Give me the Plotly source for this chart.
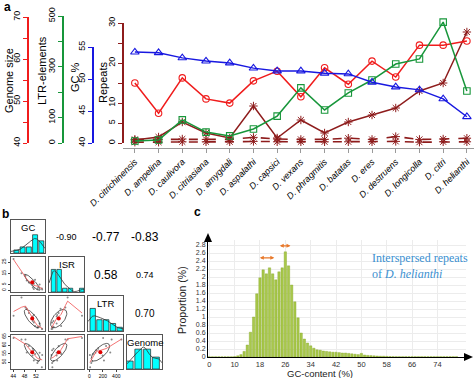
import numpy as np
import plotly.graph_objects as go

# ---------------- data ----------------
species = ["D. citrichinensis", "D. ampelina", "D. caulivora", "D. citriasiana", "D. amygdali",
           "D. aspalathi", "D. capsici", "D. vexans", "D. phragmitis", "D. batatas", "D. eres",
           "D. destruens", "D. longicolla", "D. citri", "D. helianthi"]
genome_size = [54.3, 47.1, 55.5, 50.5, 49.5, 54.8, 57.1, 51.0, 57.9, 54.0, 59.5, 55.7, 63.3, 63.3, 64.3]
ltr_elements = [8, 12, 91, 43, 28, 55, 106, 217, 130, 197, 248, 311, 331, 476, 205]
gc_percent = [54.2, 54.1, 53.3, 52.8, 52.5, 51.7, 51.25, 51.25, 50.9, 50.8, 49.5, 48.75, 48.3, 46.9, 44.1]
repeats = [0.75, 1.5, 5.25, 2.5, 1.25, 9.25, 1.25, 5.75, 2.5, 5.25, 7.0, 8.75, 13.0, 15.0, 27.75]
repeats_minor_a = [0.9, 0.9, 1.0, 0.9, 0.9, 1.4, 1.0, 0.9, 0.9, 1.2, 0.9, 1.6, 0.9, 1.0, 1.2]
repeats_minor_b = [0.2, 0.2, 0.3, 0.3, 0.3, 0.4, 0.3, 0.3, 0.3, 0.3, 0.3, 0.4, 0.2, 0.3, 0.3]

genome_ticks = [40, 45, 50, 55, 60, 65, 70]
genome_ticktext = ["40", "", "50", "", "60", "", "70"]
ltr_ticks = [0, 100, 200, 300, 400, 500]
ltr_ticktext = ["0", "100", "", "300", "", "500"]
gc_ticks = [40, 45, 50, 55]
rep_ticks = [0, 5, 10, 15, 20, 25, 30]
rep_ticktext = ["0", "5", "10", "", "20", "", "30"]

# panel b
b_names = ["GC", "ISR", "LTR", "Genome"]
corr_pairs = [(0, 1), (0, 2), (0, 3), (1, 2), (1, 3), (2, 3)]
corr_labels = ["-0.90", "-0.77", "-0.83", "0.58", "0.74", "0.70"]
corr_sizes = [9, 12, 12, 12, 9, 10]
b_ticks = [[44, 48, 52], [0, 5, 15, 25], [0, 200, 400], [50, 55, 60, 65]]

# panel c
gc_content = list(range(2, 81))
proportion = ([0.005] * 8 + [0.01, 0.03, 0.06, 0.14, 0.3, 0.62, 1.0, 1.58, 1.98, 2.18, 2.08, 2.23,
              2.08, 1.93, 2.13, 2.23, 2.63, 2.28, 1.8, 1.38, 0.98, 0.6, 0.45, 0.35, 0.28, 0.22,
              0.18, 0.17, 0.15, 0.14, 0.13, 0.12, 0.12, 0.11, 0.1, 0.1, 0.09, 0.08, 0.07, 0.06,
              0.09, 0.05, 0.04, 0.035, 0.03, 0.025, 0.02, 0.02, 0.015, 0.012, 0.01] + [0.008] * 20)
c_tickpos = [2, 10, 18, 26, 34, 42, 50, 58, 66, 74]
c_ticktext = ["0", "10", "18", "26", "34", "42", "50", "58", "66", "74"]
peak_arrows = [(17.5, 22.5, 2.48), (23.8, 27.6, 2.78)]

# ---------------- helpers ----------------
W, H = 474, 378
def fx(px): return px / W
def fy(py): return 1 - py / H

RED, GREEN, BLUE, MAROON = "#f01c1c", "#17963a", "#1818e0", "#8e1c1c"
FONT = "Liberation Sans, Arial, sans-serif"

fig = go.Figure()
layout = dict(width=W, height=H, margin=dict(l=0, r=0, t=0, b=0),
              paper_bgcolor="white", plot_bgcolor="rgba(0,0,0,0)", showlegend=False,
              font=dict(family=FONT, size=9, color="black"))
annotations = []
shapes = []

def note(text, px, py, size, color="black", angle=0, xanchor="center", family=None):
    f = dict(size=size, color=color)
    if family:
        f["family"] = family
    annotations.append(dict(text=text, x=fx(px), y=fy(py), xref="paper", yref="paper",
                            xanchor=xanchor, yanchor="middle", textangle=angle,
                            showarrow=False, font=f))

# ---------------- panel a ----------------
layout["xaxis"] = dict(domain=[fx(123), 1], range=[-0.5, 14.3], anchor="free", position=fy(148),
                       type="category", categoryorder="array", categoryarray=species,
                       showline=True, linecolor="#9a9a9a", linewidth=1, ticks="outside",
                       tickcolor="#9a9a9a", ticklen=4, tickangle=-45, tickvals=species,
                       ticktext=[f"<i>{s}</i>" for s in species], tickfont=dict(size=9),
                       showgrid=False, zeroline=False, automargin=False)

def left_axis(top_px, rng, pos_px, color, tv, tt):
    return dict(domain=[fy(143), fy(top_px)], range=rng, anchor="free", position=fx(pos_px),
                side="left", showline=True, linecolor=color, linewidth=1.5, ticks="outside",
                tickcolor=color, ticklen=4, tickwidth=1.2, tickvals=tv, ticktext=tt,
                tickangle=-90, tickfont=dict(size=9), showgrid=False, zeroline=False,
                automargin=False)

layout["yaxis"] = left_axis(23, [0, 30], 123, MAROON, rep_ticks, rep_ticktext)
layout["yaxis2"] = left_axis(17, [40, 70], 28, RED, genome_ticks, genome_ticktext)
layout["yaxis3"] = left_axis(16, [0, 500], 63, GREEN, ltr_ticks, ltr_ticktext)
layout["yaxis4"] = left_axis(47, [40, 55], 93, BLUE, gc_ticks, [str(v) for v in gc_ticks])

for title, px, py in (("Genome size", 9, 81), ("LTR-elements", 42, 71), ("GC %", 75, 77), ("Repeats", 103, 83)):
    note(title, px, py, 11, angle=-90)

for yv in (repeats_minor_b, repeats_minor_a):
    fig.add_trace(go.Scatter(x=species, y=yv, mode="lines+markers", xaxis="x", yaxis="y",
                             line=dict(color=MAROON, width=1.6, dash="dash"),
                             marker=dict(symbol="asterisk-open", size=7, line=dict(color=MAROON, width=1)),
                             cliponaxis=False))
fig.add_trace(go.Scatter(x=species, y=ltr_elements, mode="lines+markers", xaxis="x", yaxis="y3",
                         line=dict(color=GREEN, width=1.5),
                         marker=dict(symbol="square-open", size=6.5, color=GREEN, line=dict(width=1.1)),
                         cliponaxis=False))
fig.add_trace(go.Scatter(x=species, y=repeats, mode="lines+markers", xaxis="x", yaxis="y",
                         line=dict(color=MAROON, width=1.5),
                         marker=dict(symbol="asterisk-open", size=7, line=dict(color=MAROON, width=1)),
                         cliponaxis=False))
fig.add_trace(go.Scatter(x=species, y=genome_size, mode="lines+markers", xaxis="x", yaxis="y2",
                         line=dict(color=RED, width=1.5),
                         marker=dict(symbol="circle-open", size=6.5, color=RED, line=dict(width=1.1)),
                         cliponaxis=False))
fig.add_trace(go.Scatter(x=species, y=gc_percent, mode="lines+markers", xaxis="x", yaxis="y4",
                         line=dict(color=BLUE, width=1.5),
                         marker=dict(symbol="triangle-up-open", size=7.5, color=BLUE, line=dict(width=1.1)),
                         cliponaxis=False))

# ---------------- panel b ----------------
b_vars = [np.array(gc_percent, float), np.array(repeats, float),
          np.array(ltr_elements, float), np.array(genome_size, float)]
b_ranges = [[43.2, 55.2], [-1.5, 29.5], [-20, 500], [46, 66]]
b_bins = [dict(start=44, end=55, size=2.2), dict(start=0, end=30, size=5),
          dict(start=0, end=500, size=100), dict(start=45, end=65, size=5)]
b_cols = [(11, 45), (49, 84), (88, 123), (127, 162)]
b_rows = [(220, 253), (257, 292), (296, 331), (335, 369)]

def lowess(x, y, f=2 / 3):
    o = np.argsort(x)
    x, y = x[o], y[o]
    n = len(x)
    r = int(np.ceil(f * n))
    out = np.zeros(n)
    A = np.vstack([np.ones(n), x]).T
    for i in range(n):
        d = np.abs(x - x[i])
        h = np.sort(d)[r - 1]
        w = np.clip(d / h, 0, 1) if h > 0 else np.ones(n)
        w = (1 - w ** 3) ** 3
        Wm = np.diag(w)
        beta = np.linalg.lstsq(A.T @ Wm @ A, A.T @ Wm @ y, rcond=None)[0]
        out[i] = beta[0] + beta[1] * x[i]
    return x, out

def kde(v, grid):
    n = len(v)
    iqr = np.subtract(*np.percentile(v, [75, 25]))
    bw = 0.9 * min(v.std(ddof=1), iqr / 1.34) * n ** -0.2
    return np.exp(-0.5 * ((grid[:, None] - v[None, :]) / bw) ** 2).sum(1) / (n * bw * np.sqrt(2 * np.pi))

def hist_density(v, b):
    edges = np.arange(b["start"], b["end"] + 1e-9, b["size"])
    cnt, _ = np.histogram(v, bins=edges)
    return (cnt / (len(v) * b["size"])).max()

k = 0
for i in range(4):
    for j in range(4):
        xi, yi = 3 + k, 6 + k
        k += 1
        c0, c1 = b_cols[j]
        r0, r1 = b_rows[i]
        xr = b_ranges[j]
        if i == j:
            dens_grid = np.linspace(xr[0], xr[1], 80)
            dens = kde(b_vars[i], dens_grid)
            ymax = max(dens.max(), hist_density(b_vars[i], b_bins[i])) * 1.55
            yr = [0, ymax]
        else:
            yr = b_ranges[i]
        xax = dict(domain=[fx(c0), fx(c1)], range=xr, anchor=f"y{yi}", showline=True, mirror=True,
                   linecolor="#555", linewidth=0.8, showgrid=False, zeroline=False,
                   showticklabels=False, ticks="", automargin=False, tickfont=dict(size=5),
                   fixedrange=True)
        yax = dict(domain=[fy(r1), fy(r0)], range=yr, anchor=f"x{xi}", showline=True, mirror=True,
                   linecolor="#555", linewidth=0.8, showgrid=False, zeroline=False,
                   showticklabels=False, ticks="", automargin=False, tickfont=dict(size=5),
                   fixedrange=True)
        if i == 0 and j in (1, 3):
            xax.update(side="top", ticks="outside", ticklen=2, showticklabels=True, tickvals=b_ticks[j])
        if i == 3 and j in (0, 2):
            xax.update(side="bottom", ticks="outside", ticklen=2, showticklabels=True, tickvals=b_ticks[j])
        if j == 0 and i in (1, 3):
            yax.update(side="left", ticks="outside", ticklen=2, showticklabels=True,
                       tickvals=b_ticks[i], tickangle=-90)
        if j == 3 and i in (0, 2):
            yax.update(side="right", ticks="outside", ticklen=2, showticklabels=True,
                       tickvals=b_ticks[i], tickangle=-90)
        layout[f"xaxis{xi}"] = xax
        layout[f"yaxis{yi}"] = yax
        xa, ya = f"x{xi}", f"y{yi}"
        if i == j:
            fig.add_trace(go.Histogram(x=b_vars[i], xbins=b_bins[i], histnorm="probability density",
                                       marker=dict(color="#00ffff", line=dict(color="#222", width=0.7)),
                                       xaxis=xa, yaxis=ya))
            fig.add_trace(go.Scatter(x=dens_grid, y=dens, mode="lines", line=dict(color="#333", width=0.8),
                                     xaxis=xa, yaxis=ya))
            note(b_names[i], (c0 + c1) / 2, r0 + 7, 9.5)
        elif i > j:
            xv, yv = b_vars[j], b_vars[i]
            fig.add_trace(go.Scatter(x=xv, y=yv, mode="markers", marker=dict(size=2, color="#888"),
                                     xaxis=xa, yaxis=ya))
            r = np.corrcoef(xv, yv)[0, 1]
            ang = np.linspace(0, 2 * np.pi, 60)
            th = np.sign(r) / np.sqrt(2)
            shp = np.diag([np.sqrt(1 + r), np.sqrt(1 - r)]) @ np.array([[th, th], [-th, th]])
            el = np.column_stack([np.cos(ang), np.sin(ang)]) @ shp
            ex = el[:, 0] * xv.std(ddof=1) + xv.mean()
            ey = el[:, 1] * yv.std(ddof=1) + yv.mean()
            fig.add_trace(go.Scatter(x=ex, y=ey, mode="lines", line=dict(color="#333", width=0.8),
                                     xaxis=xa, yaxis=ya))
            lx, ly = lowess(xv, yv)
            fig.add_trace(go.Scatter(x=lx, y=ly, mode="lines", line=dict(color="#f05050", width=0.8),
                                     xaxis=xa, yaxis=ya))
            fig.add_trace(go.Scatter(x=[xv.mean()], y=[yv.mean()], mode="markers",
                                     marker=dict(size=4, color="#e00000"), xaxis=xa, yaxis=ya))
        else:
            idx = corr_pairs.index((i, j))
            note(corr_labels[idx], (c0 + c1) / 2, (r0 + r1) / 2, corr_sizes[idx])

# ---------------- panel c ----------------
layout["xaxis2"] = dict(domain=[fx(208), fx(466)], range=[1.6, 83], anchor="y5", showline=True,
                        linecolor="black", linewidth=1, tickmode="array", tickvals=c_tickpos,
                        ticktext=c_ticktext, ticks="", tickfont=dict(size=7.5, color="#333"),
                        showgrid=True, gridcolor="#ececec", zeroline=False, automargin=False)
layout["yaxis5"] = dict(domain=[fy(357), fy(240)], range=[0, 2.925], anchor="x2", showline=True,
                        linecolor="black", linewidth=1, dtick=0.2, tick0=0, ticks="",
                        tickfont=dict(size=7, color="#333"), showgrid=True, gridcolor="#ececec",
                        zeroline=False, automargin=False)
note("GC-content (%)", 320, 373.5, 9.5, color="#222")
note("Proportion (%)", 182, 300, 10.5, color="#222", angle=-90)
fig.add_trace(go.Bar(x=gc_content, y=proportion, xaxis="x2", yaxis="y5", width=0.75,
                     marker=dict(color="#a8c84a", line=dict(color="#86a62c", width=0.4))))
for a0, a1, ay in peak_arrows:
    annotations.append(dict(x=a1, y=ay, ax=a0, ay=ay, xref="x2", yref="y5", axref="x2", ayref="y5",
                            text="", showarrow=True, arrowhead=2, arrowside="end+start",
                            arrowsize=0.6, arrowwidth=1.3, arrowcolor="#e8782a"))
SERIF = "Liberation Serif, Times New Roman, serif"
note("Interspersed repeats", 370, 258, 12, color="#3a8fd0", xanchor="left", family=SERIF)
note("of <i>D. helianthi</i>", 370, 274, 12, color="#3a8fd0", xanchor="left", family=SERIF)
shapes.append(dict(type="path", xref="paper", yref="paper", fillcolor="black", line=dict(width=0),
                   path=f"M {fx(208)} {fy(233)} L {fx(204)} {fy(242)} L {fx(212)} {fy(242)} Z"))
shapes.append(dict(type="path", xref="paper", yref="paper", fillcolor="black", line=dict(width=0),
                   path=f"M {fx(473)} {fy(357)} L {fx(464)} {fy(353)} L {fx(464)} {fy(361)} Z"))

# ---------------- panel letters ----------------
for lab, px, py in (("a", 7, 7), ("b", 5, 214), ("c", 197, 212)):
    note(f"<b>{lab}</b>", px, py, 12)

layout["annotations"] = annotations
layout["shapes"] = shapes
layout["bargap"] = 0.2
fig.update_layout(**layout)
fig.write_html("out.html", config={"displayModeBar": False},
               post_script="document.body.style.margin='0px';")
